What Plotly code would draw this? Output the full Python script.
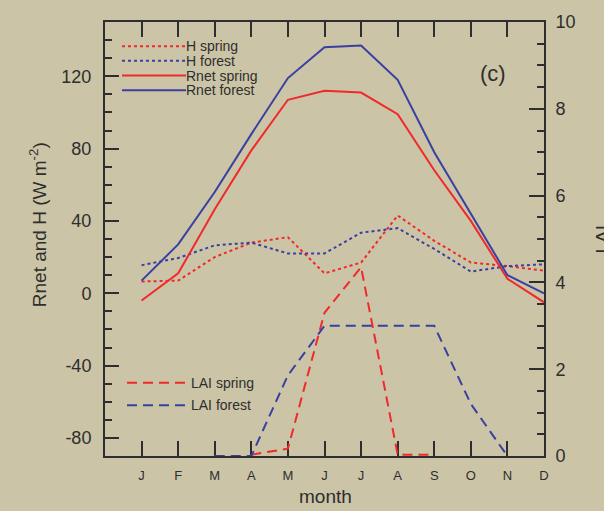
import plotly.graph_objects as go

# Monthly climatology: net radiation and sensible heat (W m-2), leaf area index
months = ["J", "F", "M", "A", "M", "J", "J", "A", "S", "O", "N", "D"]
month_num = list(range(1, 13))

h_spring = [6.5, 7, 20, 28, 31, 11, 17, 43, 29, 17, 15, 12.5]
h_forest = [15.5, 19.5, 26.5, 28, 22, 22, 33.5, 36, 24.5, 12, 15, 16]
rnet_spring = [-4, 11, 46.5, 79, 107, 112, 111, 99, 68, 40, 8, -5]
rnet_forest = [7, 27, 56, 88, 119, 136, 137, 118, 78, 44, 10, 0]

lai_spring = [None, None, None, 0.03, 0.17, 3.3, 4.35, 0.03, 0.03, None, None, None]
lai_forest = [None, None, 0, 0, 1.86, 3.0, 3.0, 3.0, 3.0, 1.2, 0, None]

flux_ticks = [-80, -40, 0, 40, 80, 120]
flux_ticklabels = ["-80", "-40", "0", "40", "80", "120"]
lai_ticks = [0, 2, 4, 6, 8, 10]

RED = "#f02a2a"
BLUE = "#3a3fa2"
INK = "#2e2e2e"
BG = "#cbc4a6"
FONT = "Liberation Sans, Arial, sans-serif"

# plot-area geometry in pixels (used for legend keys and titles)
W, H = 604, 511
L, R, T, B = 105, 60, 16, 55
PW, PH = W - L - R, H - T - B


def px(x):
    return (x - L) / PW


def py(y):
    return 1 - (y - T) / PH


fig = go.Figure()

flux_series = [
    ("H spring", h_spring, RED, "3px,3px"),
    ("H forest", h_forest, BLUE, "3px,3px"),
    ("Rnet spring", rnet_spring, RED, "solid"),
    ("Rnet forest", rnet_forest, BLUE, "solid"),
]
for name, vals, col, dash in flux_series:
    fig.add_trace(go.Scatter(x=month_num, y=vals, name=name, mode="lines",
                             line=dict(color=col, width=2, dash=dash),
                             showlegend=False))

lai_series = [
    ("LAI spring", lai_spring, RED),
    ("LAI forest", lai_forest, BLUE),
]
for name, vals, col in lai_series:
    fig.add_trace(go.Scatter(x=month_num, y=vals, name=name, mode="lines",
                             line=dict(color=col, width=2, dash="10px,6px"),
                             yaxis="y2", showlegend=False))

# hand-drawn legend keys with long line samples
shapes = []
annotations = []
legend_rows = [
    (flux_series[0][0], RED, "3px,3px", 40.5, 122, 186),
    (flux_series[1][0], BLUE, "3px,3px", 55.4, 122, 186),
    (flux_series[2][0], RED, "solid", 70.3, 122, 186),
    (flux_series[3][0], BLUE, "solid", 85.2, 122, 186),
    (lai_series[0][0], RED, "10px,6px", 381.7, 127, 191),
    (lai_series[1][0], BLUE, "10px,6px", 404.5, 127, 191),
]
for label, col, dash, yy, x0, x1 in legend_rows:
    shapes.append(dict(type="line", xref="paper", yref="paper",
                       x0=px(x0), x1=px(x1), y0=py(yy), y1=py(yy),
                       line=dict(color=col, width=2, dash=dash)))
    annotations.append(dict(text=label, xref="paper", yref="paper",
                            x=px(x1 - 1), y=py(yy), xanchor="left", yanchor="middle",
                            borderpad=0, showarrow=False,
                            font=dict(size=14, color=INK, family=FONT)))

annotations += [
    dict(text="(c)", xref="paper", yref="paper", x=px(493), y=py(68),
         xanchor="center", yanchor="middle", showarrow=False,
         font=dict(size=22, color=INK, family=FONT)),
    dict(text="Rnet and H (W m<sup>-2</sup>)", xref="paper", yref="paper",
         x=px(38), y=py(222), textangle=-90, xanchor="center", yanchor="middle",
         showarrow=False, font=dict(size=19, color=INK, family=FONT)),
    dict(text="month", xref="paper", yref="paper", x=px(325), y=py(497),
         xanchor="center", yanchor="middle", showarrow=False,
         font=dict(size=19, color=INK, family=FONT)),
    dict(text="LAI", xref="paper", yref="paper", x=px(589), y=py(236),
         textangle=-90, xanchor="left", yanchor="middle", showarrow=False,
         font=dict(size=19, color=INK, family=FONT)),
]

fig.update_layout(
    width=W, height=H,
    margin=dict(l=L, r=R, t=T, b=B, pad=0),
    paper_bgcolor=BG, plot_bgcolor=BG,
    font=dict(family=FONT, color=INK),
    showlegend=False,
    shapes=shapes,
    annotations=annotations,
    xaxis=dict(
        range=[0, 12], tickvals=month_num, ticktext=months,
        ticks="inside", ticklen=15, tickwidth=1.5, tickcolor=INK,
        showline=True, linecolor=INK, linewidth=2, mirror="ticks",
        showgrid=False, zeroline=False, layer="below traces",
        tickfont=dict(size=13, color=INK), ticklabelstandoff=6,
    ),
    yaxis=dict(
        range=[-90, 150], tickvals=flux_ticks, ticktext=flux_ticklabels,
        ticks="inside", ticklen=14, tickwidth=1.5, tickcolor=INK,
        minor=dict(dtick=10, tick0=0, ticks="inside", ticklen=7,
                   tickwidth=1.5, tickcolor=INK, showgrid=False),
        showline=True, linecolor=INK, linewidth=2,
        showgrid=False, zeroline=False, layer="below traces",
        tickfont=dict(size=18, color=INK), ticklabelstandoff=8,
    ),
    yaxis2=dict(
        range=[0, 10], overlaying="y", side="right",
        tickvals=lai_ticks,
        ticks="inside", ticklen=15, tickwidth=1.5, tickcolor=INK,
        minor=dict(dtick=0.5, tick0=0, ticks="inside", ticklen=7,
                   tickwidth=1.5, tickcolor=INK, showgrid=False),
        showline=True, linecolor=INK, linewidth=2,
        showgrid=False, zeroline=False, layer="below traces",
        tickfont=dict(size=18, color=INK), ticklabelstandoff=6,
    ),
)

fig.write_html("out.html")
